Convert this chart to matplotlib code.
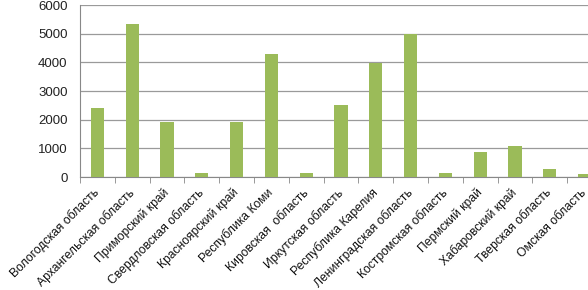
import matplotlib
matplotlib.use("Agg")
from matplotlib import pyplot as plt
import numpy as np

regions = ["Вологодская область", "Архангельская область", "Приморский край",
           "Свердловская область", "Красноярский край", "Республика Коми",
           "Кировская  область", "Иркутская область", "Республика Карелия",
           "Ленинградская область", "Костромская область", "Пермский край",
           "Хабаровский край", "Тверская область", "Омская область"]
values = [2420, 5320, 1930, 140, 1910, 4300, 150, 2500, 3990, 5000, 130, 860, 1070, 270, 105]
yticks = [0, 1000, 2000, 3000, 4000, 5000, 6000]

plt.rcParams['font.family'] = ['Liberation Sans', 'DejaVu Sans']

fig = plt.figure(figsize=(5.88, 2.90), dpi=100)
# axes runs a bit past the right border, as in the original
ax = fig.add_axes([80/588, 1-177/290, 522/588, 172/290])

x = np.arange(len(regions))
ax.bar(x, values, width=0.38, color='#9BBB59', zorder=3)

ax.set_xlim(-0.5, len(regions) - 0.5)
ax.set_ylim(0, 6000)
ax.set_yticks(yticks)
ax.set_yticklabels([str(t) for t in yticks], fontsize=9.5, color='#222222')
ax.yaxis.grid(True, color='#9a9a9a', linewidth=0.9, zorder=0)

ax.set_xticks(np.arange(len(regions) + 1) - 0.5, minor=True)
ax.set_xticks(x)
ax.set_xticklabels(regions, rotation=45, ha='right', va='center',
                   rotation_mode='anchor', fontsize=8.7, color='#111111')
ax.tick_params(axis='x', which='major', length=0, pad=10)
ax.tick_params(axis='x', which='minor', length=4, color='#888888', direction='out')
ax.tick_params(axis='y', length=0, pad=9)

for s in ['top', 'right']:
    ax.spines[s].set_visible(False)
ax.spines['left'].set_color('#888888')
ax.spines['bottom'].set_color('#888888')

fig.savefig('out.png', dpi=100)
